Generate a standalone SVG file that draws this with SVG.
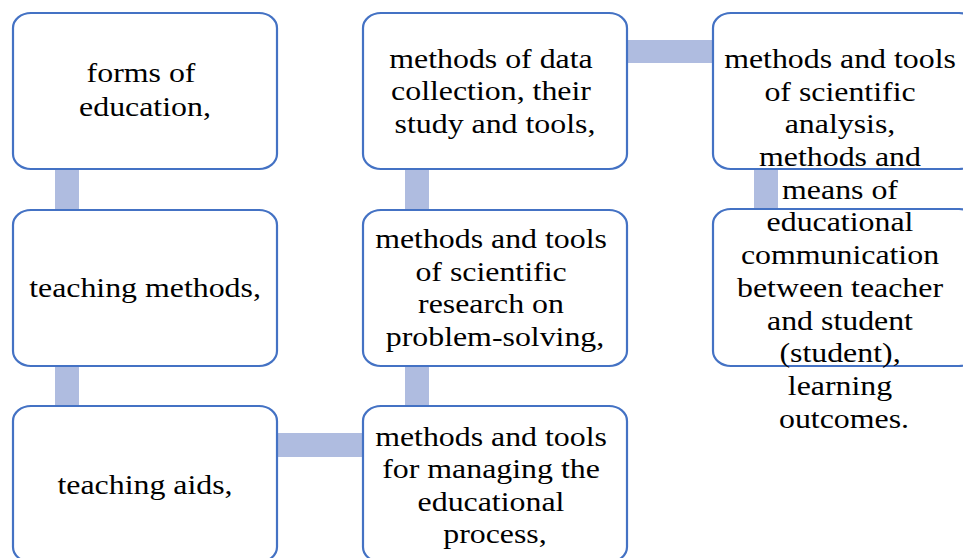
<svg xmlns="http://www.w3.org/2000/svg" width="963" height="558" viewBox="0 0 963 558">
  <style>
    .box { fill: #ffffff; stroke: #4472C4; stroke-width: 2.2; }
    .link { fill: #AFBCE0; stroke: none; }
    .lbl { font-family: "Liberation Serif", "Times New Roman", serif; font-size: 27px; fill: #000000; text-anchor: middle; }
  </style>
  <rect width="963" height="558" fill="#ffffff"/>

  <!-- connectors: thick flat bars behind the boxes -->
  <g id="connectors">
    <rect class="link" x="55" y="165" width="24" height="50"/>
    <rect class="link" x="55" y="362" width="24" height="50"/>
    <rect class="link" x="273" y="433" width="95" height="24"/>
    <rect class="link" x="405" y="362" width="24" height="50"/>
    <rect class="link" x="405" y="165" width="24" height="50"/>
    <rect class="link" x="623" y="40" width="95" height="23"/>
    <rect class="link" x="754" y="165" width="24" height="50"/>
  </g>

  <!-- left column -->
  <g id="forms-of-education">
    <rect class="box" x="13" y="13" width="264" height="156" rx="18" ry="15"/>
    <text class="lbl" transform="translate(145 0) scale(1.18 1)">
      <tspan x="0" y="82">forms of</tspan>
      <tspan x="0" y="116">education,</tspan>
    </text>
  </g>
  <g id="teaching-methods">
    <rect class="box" x="13" y="210" width="264" height="156" rx="18" ry="15"/>
    <text class="lbl" transform="translate(145 0) scale(1.18 1)" x="0" y="297">teaching methods,</text>
  </g>
  <g id="teaching-aids">
    <rect class="box" x="13" y="406" width="264" height="156" rx="18" ry="15"/>
    <text class="lbl" transform="translate(145 0) scale(1.18 1)" x="0" y="494">teaching aids,</text>
  </g>

  <!-- middle column -->
  <g id="data-collection">
    <rect class="box" x="363" y="13" width="264" height="156" rx="18" ry="15"/>
    <text class="lbl" transform="translate(495 0) scale(1.18 1)">
      <tspan x="0" y="68">methods of data</tspan>
      <tspan x="0" y="100.5">collection, their</tspan>
      <tspan x="0" y="133">study and tools,</tspan>
    </text>
  </g>
  <g id="scientific-research">
    <rect class="box" x="363" y="210" width="264" height="156" rx="18" ry="15"/>
    <text class="lbl" transform="translate(495 0) scale(1.18 1)">
      <tspan x="0" y="248">methods and tools</tspan>
      <tspan x="0" y="280.7">of scientific</tspan>
      <tspan x="0" y="313.4">research on</tspan>
      <tspan x="0" y="346">problem-solving,</tspan>
    </text>
  </g>
  <g id="process-management">
    <rect class="box" x="363" y="406" width="264" height="156" rx="18" ry="15"/>
    <text class="lbl" transform="translate(495 0) scale(1.18 1)">
      <tspan x="0" y="446">methods and tools</tspan>
      <tspan x="0" y="478.5">for managing the</tspan>
      <tspan x="0" y="511">educational</tspan>
      <tspan x="0" y="543.5">process,</tspan>
    </text>
  </g>

  <!-- right column: the lower box is drawn first so the long label runs over it -->
  <g id="communication-box">
    <rect class="box" x="713" y="209" width="264" height="157" rx="18" ry="15"/>
  </g>
  <g id="scientific-analysis">
    <rect class="box" x="713" y="13" width="264" height="156" rx="18" ry="15"/>
    <text class="lbl" transform="translate(844 0) scale(1.18 1)">
      <tspan x="0" y="68">methods and tools</tspan>
      <tspan x="0" y="100.7">of scientific</tspan>
      <tspan x="0" y="133.4">analysis,</tspan>
      <tspan x="0" y="166.1">methods and</tspan>
      <tspan x="0" y="198.8">means of</tspan>
      <tspan x="0" y="231.5">educational</tspan>
      <tspan x="0" y="264.2">communication</tspan>
      <tspan x="0" y="296.9">between teacher</tspan>
      <tspan x="0" y="329.6">and student</tspan>
      <tspan x="0" y="362.3">(student),</tspan>
      <tspan x="0" y="395">learning</tspan>
      <tspan x="0" y="427.7">outcomes.</tspan>
    </text>
  </g>
</svg>
